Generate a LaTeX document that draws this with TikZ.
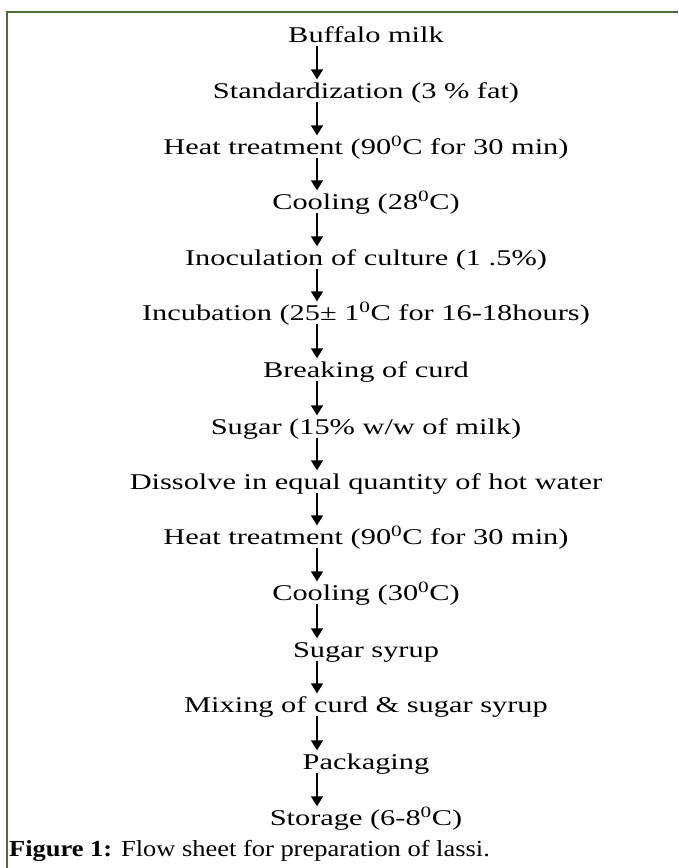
\documentclass[tikz,border=0pt]{standalone}
\usepackage{fontspec}
\setmainfont{Liberation Serif}[FakeStretch=1.35]
\newfontfamily\capfont{Liberation Serif}[FakeStretch=1.15]
\usetikzlibrary{arrows.meta}
\definecolor{framegreen}{RGB}{72,110,62}
\tikzset{
  stepnode/.style={inner sep=0pt, text height=15pt, text depth=5pt,
    font=\fontsize{22.5}{27}\selectfont, anchor=center},
  flowarrow/.style={-{Triangle[length=10pt,width=12pt]}, line width=1.7pt,
    shorten <=-1pt, shorten >=3.5pt},
  frameline/.style={draw=framegreen, line width=2.3pt},
  captext/.style={anchor=west, inner sep=0pt, font=\capfont\fontsize{23}{27}\selectfont}
}
\begin{document}
\begin{tikzpicture}[x=1pt,y=-1pt]
\useasboundingbox (0,0) rectangle (678,868);
% frame
\coordinate (fb) at (6.8,868);
\coordinate (fc) at (6.8,12.2);
\coordinate (fr) at (678,12.2);
\draw[frameline] (fb) -- (fc) -- (fr);
% steps
\node[stepnode] (n1) at (366,37) {Buffalo milk};
\node[stepnode] (n2) at (366,93) {Standardization (3 \% fat)};
\node[stepnode] (n3) at (366,149) {Heat treatment (90\textsuperscript{0}C for 30 min)};
\node[stepnode] (n4) at (366,204) {Cooling (28\textsuperscript{0}C)};
\node[stepnode] (n5) at (366,260) {Inoculation of culture (1 .5\%)};
\node[stepnode] (n6) at (366,315) {Incubation (25± 1\textsuperscript{0}C for 16-18hours)};
\node[stepnode] (n7) at (366,372) {Breaking of curd};
\node[stepnode] (n8) at (366,429) {Sugar (15\% w/w of milk)};
\node[stepnode] (n9) at (366,484) {Dissolve in equal quantity of hot water};
\node[stepnode] (n10) at (366,539) {Heat treatment (90\textsuperscript{0}C for 30 min)};
\node[stepnode] (n11) at (366,595) {Cooling (30\textsuperscript{0}C)};
\node[stepnode] (n12) at (366,652) {Sugar syrup};
\node[stepnode] (n13) at (366,707) {Mixing of curd \& sugar syrup};
\node[stepnode] (n14) at (366,764) {Packaging};
\node[stepnode] (n15) at (366,820) {Storage (6-8\textsuperscript{0}C)};
% caption
\node[captext] (cap) at (9,851) {\textbf{Figure 1:} Flow sheet for preparation of lassi.};
% arrows
\coordinate (ax) at (317,0);
\foreach \a/\b in {n1/n2,n2/n3,n3/n4,n4/n5,n5/n6,n6/n7,n7/n8,n8/n9,n9/n10,n10/n11,n11/n12,n12/n13,n13/n14,n14/n15}{
  \draw[flowarrow] (\a.south -| ax) -- (\b.north -| ax);
}
\end{tikzpicture}
\end{document}
